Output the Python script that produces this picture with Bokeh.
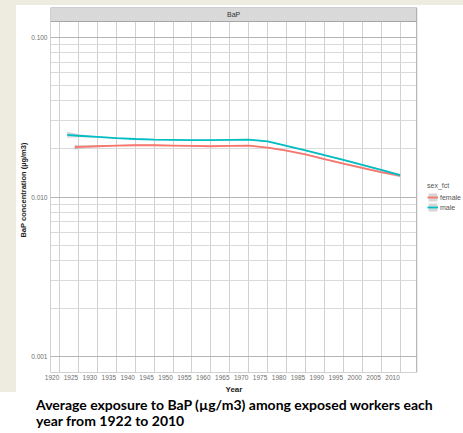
from bokeh.plotting import figure
from bokeh.models import (Range1d, FixedTicker, LinearAxis, PrintfTickFormatter,
                          Legend, LegendItem, Label, Grid, Div, Title)
from bokeh.layouts import column, row
from bokeh.embed import file_html
from bokeh.resources import INLINE

# ---------------- data ----------------
male_years = [1922, 1925, 1930, 1935, 1940, 1945, 1950, 1955, 1960, 1965,
              1970, 1975, 1980, 1985, 1990, 1995, 2000, 2005, 2010]
male_vals = [0.0245, 0.0242, 0.0238, 0.0234, 0.0231, 0.0229, 0.0228, 0.0227, 0.0227, 0.0228,
             0.0229, 0.0223, 0.0209, 0.0196, 0.0183, 0.0171, 0.0159, 0.0148, 0.0137]
male_lo = [0.0235, 0.0237, 0.0236, 0.0232, 0.0229, 0.0227, 0.0226, 0.0225, 0.0225, 0.0226,
           0.0227, 0.0221, 0.0207, 0.0194, 0.0181, 0.0169, 0.0157, 0.0146, 0.0134]
male_hi = [0.0256, 0.0247, 0.0240, 0.0236, 0.0233, 0.0231, 0.0230, 0.0229, 0.0229, 0.0230,
           0.0231, 0.0225, 0.0211, 0.0198, 0.0185, 0.0173, 0.0161, 0.0150, 0.0140]

female_years = [1924, 1925, 1930, 1935, 1940, 1945, 1950, 1955, 1960, 1965,
                1970, 1975, 1980, 1985, 1990, 1995, 2000, 2005, 2010]
female_vals = [0.0205, 0.0206, 0.0208, 0.0210, 0.0211, 0.0211, 0.0210, 0.0209, 0.0208, 0.0209,
               0.0210, 0.0204, 0.0195, 0.0185, 0.0173, 0.0162, 0.0152, 0.0143, 0.0136]
female_lo = [0.0197, 0.0201, 0.0205, 0.0208, 0.0209, 0.0209, 0.0208, 0.0207, 0.0206, 0.0207,
             0.0208, 0.0202, 0.0193, 0.0183, 0.0171, 0.0160, 0.0150, 0.0141, 0.0133]
female_hi = [0.0213, 0.0211, 0.0211, 0.0212, 0.0213, 0.0213, 0.0212, 0.0211, 0.0210, 0.0211,
             0.0212, 0.0206, 0.0197, 0.0187, 0.0175, 0.0164, 0.0154, 0.0145, 0.0139]

x_ticks = [1920, 1925, 1930, 1935, 1940, 1945, 1950, 1955, 1960, 1965,
           1970, 1975, 1980, 1985, 1990, 1995, 2000, 2005, 2010]
y_major = [0.001, 0.01, 0.1]
y_minor = [0.002, 0.003, 0.004, 0.005, 0.006, 0.007, 0.008, 0.009,
           0.02, 0.03, 0.04, 0.05, 0.06, 0.07, 0.08, 0.09]

strip_label = "BaP"
legend_title = "sex_fct"
series_labels = ["female", "male"]
x_title = "Year"
y_title = "BaP concentration (µg/m3)"
caption_lines = ["Average exposure to BaP (µg/m3) among exposed workers each",
                 "year from 1922 to 2010"]

# ---------------- layout constants ----------------
X0, X1 = 1917.6, 2014.4          # panel x extent (data)
PANEL_W = 368                    # panel width in px
RIGHT_PAD = 47                   # px between panel and page edge (legend area)
X_RIGHT = X1 + RIGHT_PAD * (X1 - X0) / PANEL_W
LOG_BOTTOM, LOG_PANEL_TOP, LOG_STRIP_TOP = -3.1, -0.9, -0.8122
Y_LO, Y_HI = 10 ** LOG_BOTTOM, 10 ** LOG_STRIP_TOP
FONT = "Liberation Sans"
BEIGE = "#EEECE1"
BORDER = "#A6A6A6"
LAB_SHIFT = 2                    # tick labels sit left of their grid lines

p = figure(width=447, height=388,
           x_range=Range1d(X0, X_RIGHT),
           y_range=Range1d(Y_LO, Y_HI),
           y_axis_type="log", x_axis_location=None,
           output_backend="svg", toolbar_location=None,
           min_border_left=32, min_border_right=0,
           min_border_top=2, min_border_bottom=21)
p.background_fill_color = "white"
p.border_fill_color = "white"
p.outline_line_color = None

# vertical grid
if len(p.xgrid) == 0:
    p.add_layout(Grid(dimension=0), "center")
xt = FixedTicker(ticks=x_ticks)
for g in p.xgrid:
    g.ticker = xt
    g.grid_line_color = "#D0D0D0"
    g.grid_line_width = 1

# horizontal grid + y axis
yt = FixedTicker(ticks=y_major, minor_ticks=y_minor)
p.ygrid.ticker = yt
p.ygrid.grid_line_color = "#B5B5B5"
p.ygrid.grid_line_width = 1
p.ygrid.minor_grid_line_color = "#DADADA"
p.ygrid.minor_grid_line_width = 1

ya = p.yaxis[0]
ya.ticker = yt
ya.formatter = PrintfTickFormatter(format="%.3f")
ya.axis_line_color = None
ya.major_tick_line_color = None
ya.minor_tick_line_color = None
ya.major_tick_out = 0
ya.minor_tick_out = 0
ya.major_label_standoff = 3
ya.major_label_text_font = FONT
ya.major_label_text_font_size = "6.5px"
ya.major_label_text_color = "#6E6E6E"
ya.axis_label = y_title
ya.axis_label_text_font = FONT
ya.axis_label_text_font_style = "bold"
ya.axis_label_text_font_size = "7.5px"
ya.axis_label_text_color = "#222222"
ya.axis_label_standoff = 0

# x axis: labels drawn from a shifted range (as in the reference)
p.extra_x_ranges = {"lab": Range1d(X0 + LAB_SHIFT, X_RIGHT + LAB_SHIFT)}
xa = LinearAxis(x_range_name="lab", ticker=FixedTicker(ticks=x_ticks))
xa.axis_line_color = None
xa.major_tick_line_color = None
xa.minor_tick_line_color = None
xa.major_tick_out = 0
xa.minor_tick_out = 0
xa.major_label_standoff = 2
xa.major_label_text_font = FONT
xa.major_label_text_font_size = "6.5px"
xa.major_label_text_color = "#6E6E6E"
p.add_layout(xa, "below")

# x-axis title, centred on the panel (not on the wider frame)
YEAR_W = 18
p.add_layout(Title(text=x_title, align="left", offset=PANEL_W / 2 - YEAR_W / 2,
                   standoff=0, text_font=FONT, text_font_style="bold",
                   text_font_size="8px", text_color="#222222"), "below")

# series
band_f = p.varea(x=female_years, y1=female_lo, y2=female_hi,
                 fill_color="#999999", fill_alpha=0.4)
band_m = p.varea(x=male_years, y1=male_lo, y2=male_hi,
                 fill_color="#999999", fill_alpha=0.4)
line_f = p.line(female_years, female_vals, line_color="#F8766D", line_width=1.8)
line_m = p.line(male_years, male_vals, line_color="#00BFC4", line_width=1.8)

# white legend area right of the panel, panel border, facet strip
p.quad(left=X1, right=X_RIGHT, bottom=Y_LO, top=Y_HI, fill_color="white", line_color=None)
p.quad(left=X0, right=X1, bottom=Y_LO, top=10 ** LOG_PANEL_TOP,
       fill_color=None, line_color=BORDER, line_width=1)
p.quad(left=X0, right=X1, bottom=10 ** LOG_PANEL_TOP, top=Y_HI,
       fill_color="#D9D9D9", line_color=BORDER, line_width=1)
p.add_layout(Label(x=(X0 + X1) / 2, y=10 ** ((LOG_PANEL_TOP + LOG_STRIP_TOP) / 2),
                   text=strip_label, text_align="center", text_baseline="middle",
                   text_font=FONT, text_font_size="7px", text_color="#333333"))

legend = Legend(items=[LegendItem(label=series_labels[0], renderers=[band_f, line_f]),
                       LegendItem(label=series_labels[1], renderers=[band_m, line_m])],
                title=legend_title, location=(377, 160), orientation="vertical",
                glyph_width=11, glyph_height=10, label_height=10, label_standoff=2,
                spacing=0, padding=0, margin=0, border_line_color=None,
                background_fill_alpha=0, label_text_font=FONT, title_text_font=FONT,
                title_text_font_style="normal",
                label_text_font_size="7px", title_text_font_size="7px",
                label_text_color="#555555", title_text_color="#555555",
                title_standoff=3)
p.add_layout(legend, "center")

# page furniture: beige strips and caption
top_strip = Div(text="", width=463, height=5, margin=0,
                styles={"background-color": BEIGE})
left_strip = Div(text="", width=16, height=387, margin=0,
                 styles={"background-color": BEIGE})
caption = Div(text=caption_lines[0] + "<br>" + caption_lines[1], width=463, height=40,
              margin=0,
              styles={"font-family": "Lato", "font-weight": "bold", "font-size": "14px",
                      "line-height": "16px", "padding-top": "4px", "padding-left": "36px",
                      "color": "#000000", "box-sizing": "border-box",
                      "white-space": "nowrap"})

layout = column(top_strip, row(left_strip, p, spacing=0), caption, spacing=0)

open("out.html", "w").write(file_html(layout, INLINE))
